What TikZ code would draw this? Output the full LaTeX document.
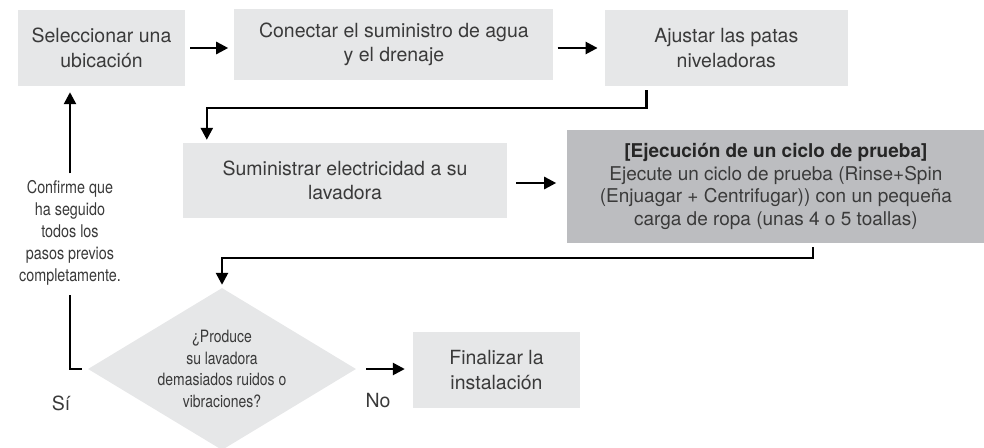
\documentclass[tikz,border=0pt]{standalone}
\usepackage{fontspec}
\setmainfont{TeX Gyre Heros}
\newfontfamily\narrowfont[FakeStretch=0.82]{TeX Gyre Heros}
\usetikzlibrary{arrows.meta, positioning, shapes.geometric}
\definecolor{boxgray}{HTML}{E6E7E8}
\definecolor{keygray}{HTML}{BCBDC0}
\definecolor{txtgray}{HTML}{3A3A3A}

\begin{document}
\begin{tikzpicture}[x=1pt, y=-1pt,
  stepbox/.style={fill=boxgray, text=txtgray, align=center, inner sep=0pt, minimum height=76pt, font=\fontsize{19.5}{24.5}\selectfont},
  keybox/.style={stepbox, fill=keygray, minimum height=113pt, font=\fontsize{19}{22.5}\selectfont},
  decide/.style={diamond, fill=boxgray, text=txtgray, align=center, inner sep=-6pt, aspect=1.65, minimum width=268pt, minimum height=162pt, font=\narrowfont\fontsize{17}{21.5}\selectfont},
  note/.style={text=txtgray, align=center, inner sep=0pt, font=\narrowfont\fontsize{17.5}{22}\selectfont},
  answer/.style={text=txtgray, inner sep=0pt, font=\fontsize{19.5}{24}\selectfont},
  line/.style={line width=2.5pt, -{Triangle[length=12pt, width=12pt]}},
  plain/.style={line width=2.5pt}
]
\useasboundingbox (0,0) rectangle (984,447);

% Fila superior
\node[stepbox, minimum width=167pt] (ubic) at (101.5,48) {Seleccionar una\\ubicación};
\node[stepbox, minimum width=319pt, minimum height=71pt, anchor=north west] (agua) at ([xshift=49pt, yshift=1pt]ubic.north east) {Conectar el suministro de agua\\y el drenaje};
\node[stepbox, minimum width=243pt, anchor=north west] (patas) at ([xshift=51pt, yshift=-1pt]agua.north east) {Ajustar las patas\\niveladoras};

% Fila central
\node[stepbox, minimum width=324pt, minimum height=75pt] (elec) at (345,180.5) {Suministrar electricidad a su\\lavadora};
\node[keybox, minimum width=417pt, anchor=north west] (prueba) at ([xshift=60pt, yshift=13pt]elec.north east) {\textbf{\color{black!85}[Ejecución de un ciclo de prueba]}\\Ejecute un ciclo de prueba (Rinse+Spin\\(Enjuagar + Centrifugar)) con un pequeña\\carga de ropa (unas 4 o 5 toallas)};

% Fila inferior
\node[decide] (ruido) at (222,369) {¿Produce\\su lavadora\\demasiados ruidos o\\vibraciones?};
\node[stepbox, minimum width=167pt] (fin) at (496.5,370) {Finalizar la\\instalación};
\node[note] (confirme) at (70,233) {Confirme que\\ha seguido\\todos los\\pasos previos\\completamente.};
\node[answer] (si) at (61,403) {Sí};
\node[answer] (no) at (378,401) {No};

% Conexiones
\draw[line] ([xshift=5pt]ubic.east) -- ([xshift=-6pt]agua.west |- ubic.east);
\draw[line] ([xshift=4pt]agua.east |- patas.west) -- ([xshift=-7pt]patas.west);
\draw[line] ([xshift=42pt, yshift=-4pt]patas.south west) -- ++(0,18) -| ([xshift=24pt, yshift=3pt]elec.north west);
\draw[line] ([xshift=9pt, yshift=-2.5pt]elec.east) -- ([xshift=-11pt, yshift=-2.5pt]prueba.west |- elec.east);
\draw[line] ([xshift=246pt, yshift=-4pt]prueba.south west) -- ++(0,11) -| ([yshift=3pt]ruido.north);
\draw[line] ([xshift=10pt]ruido.east) -- ([xshift=-8pt]fin.west |- ruido.east);

% Retorno
\draw[plain] ([xshift=-6pt]ruido.west) -| ([yshift=-9pt]confirme.south);
\draw[line] ([yshift=7pt]confirme.north) -- ([yshift=-6pt]ubic.south -| confirme.north);

\end{tikzpicture}
\end{document}
